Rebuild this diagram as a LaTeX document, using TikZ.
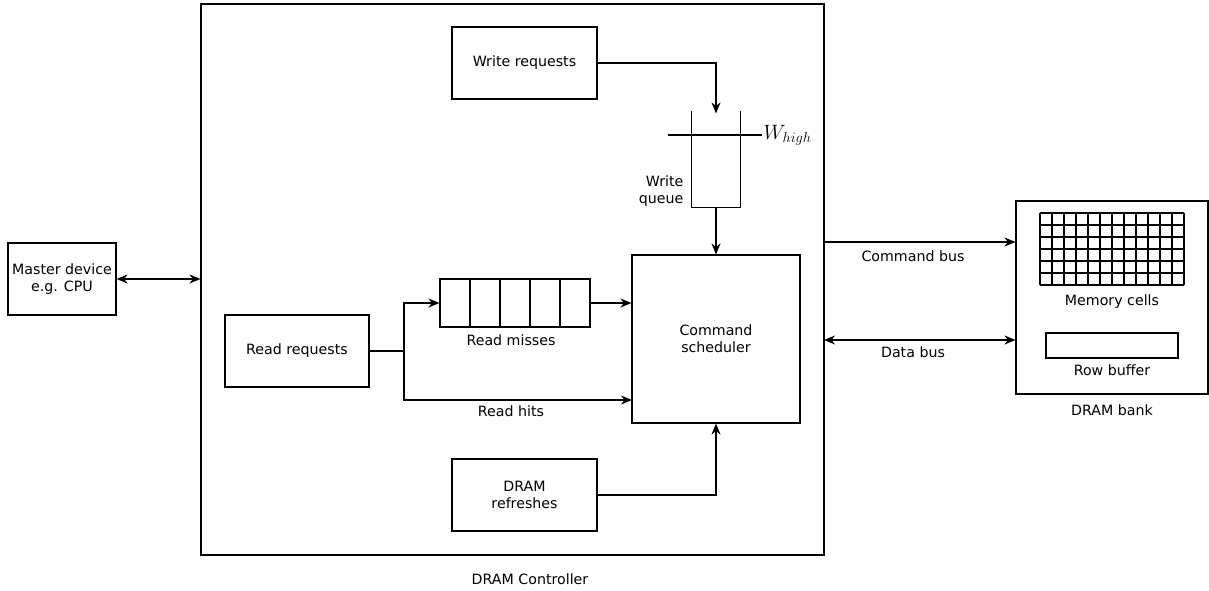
\documentclass[tikz,border=0pt]{standalone}
\usepackage{fontspec}
\setmainfont{DejaVu Sans}
\usetikzlibrary{arrows.meta}

\begin{document}
\begin{tikzpicture}[x=1pt, y=-1pt, line width=1.1pt,
  >={Stealth[length=11pt,width=9pt,inset=3.5pt]},
  box/.style={draw, inner sep=0pt, align=center, font=\fontsize{14.2}{17}\selectfont},
  lbl/.style={inner sep=0pt, align=center, font=\fontsize{14.2}{17}\selectfont},
  cell/.style={draw, inner sep=0pt, minimum width=30pt, minimum height=48pt}]
\useasboundingbox (0,0) rectangle (1209,590);

% main blocks
\node[box, minimum width=108pt, minimum height=72pt] (md) at (62,279) {Master device\\e.g. CPU};
\node[box, minimum width=623pt, minimum height=551pt] (ctl) at (512.5,279.5) {};
\node[lbl] (ctllbl) at (530,579) {DRAM Controller};

\node[box, minimum width=145pt, minimum height=72pt] (wr) at (524.5,63) {Write requests};
\node[box, minimum width=168pt, minimum height=168pt] (cs) at (716,339) {Command\\scheduler};
\node[box, minimum width=144pt, minimum height=72pt] (rr) at (297,351) {Read requests};
\node[box, minimum width=145pt, minimum height=72pt] (rf) at (524.5,495) {DRAM\\refreshes};

% write queue (open at the top) with high watermark
\node[inner sep=0pt, minimum width=48pt, minimum height=95pt] (wq) at (716,159.5) {};
\draw (wq.north west) -- (wq.south west) -- (wq.south east) -- (wq.north east);
\coordinate (wl) at (668,135);
\coordinate (wh) at (762,135);
\draw (wl) -- (wh) node[right, inner sep=1pt, font=\fontsize{20.5}{22}\selectfont] (whigh) {$W_{high}$};
\node[lbl, align=right, anchor=east] (wqlbl) at (684,191) {Write\\queue};

% read miss queue
\node[cell] (q1) at (455,303) {};
\node[cell] (q2) at (485,303) {};
\node[cell] (q3) at (515,303) {};
\node[cell] (q4) at (545,303) {};
\node[cell] (q5) at (575,303) {};
\node[lbl] (rmlbl) at (511,340) {Read misses};

% DRAM bank
\node[box, minimum width=192pt, minimum height=193pt] (bank) at (1112,297.5) {};
\foreach \i in {0,...,12} \draw (1040+12*\i,213) -- (1040+12*\i,285);
\foreach \j in {0,...,6} \draw (1040,213+12*\j) -- (1184,213+12*\j);
\node[lbl] (mclbl) at (1112,302) {Memory cells};
\node[box, minimum width=132pt, minimum height=25pt] (rb) at (1112,345.5) {};
\node[lbl] (rblbl) at (1112,370) {Row buffer};
\node[lbl] (banklbl) at (1112,410) {DRAM bank};

% connectors
\draw[<->] (md.east) -- (ctl.west |- md.east);
\draw[->] (wr.east) -| ([yshift=-2pt]wq.north);
\draw[->] (wq.south) -- (cs.north);
\coordinate (sp) at (404,351);
\coordinate (hit) at (632,400);
\draw (rr.east) -- (sp);
\draw[->] (sp) |- (q1.west);
\draw[->] (sp) |- (hit);
\node[lbl] (rhlbl) at (511,411) {Read hits};
\draw[->] (q5.east) -- (cs.west |- q5.east);
\draw[->] (rf.east) -| (cs.south);

\coordinate (cb) at (824,242);
\coordinate (db) at (824,340);
\draw[->] (cb) -- (bank.west |- cb);
\draw[<->] (db) -- (bank.west |- db);
\node[lbl] (cblbl) at (913,256) {Command bus};
\node[lbl] (dblbl) at (913,352) {Data bus};
\end{tikzpicture}
\end{document}
